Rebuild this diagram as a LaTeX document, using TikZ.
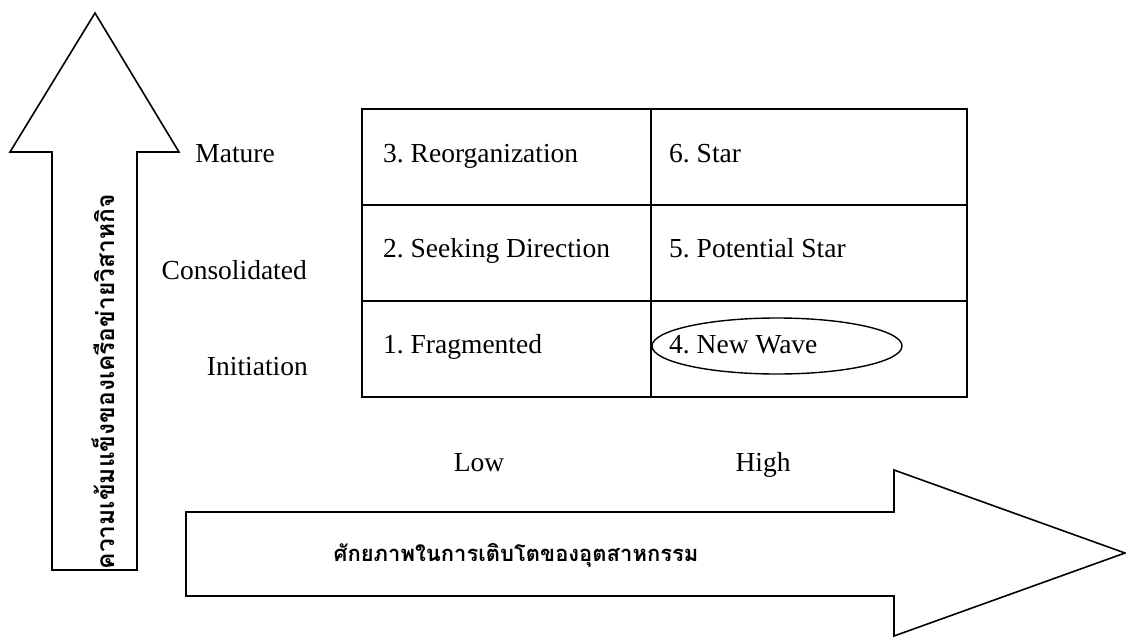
\documentclass[tikz,border=0pt]{standalone}
\usepackage{fontspec}
\setmainfont{Liberation Serif}
\newfontfamily\thaifont[Script=Thai]{Loma}
\frenchspacing
\begin{document}
\begin{tikzpicture}[x=1pt,y=-1pt,
  shapeline/.style={draw=black,line width=1.6pt,line join=miter},
  cell/.style={font=\fontsize{27.5}{30}\selectfont,anchor=base west,inner sep=0pt},
  axislab/.style={font=\fontsize{27.5}{30}\selectfont,inner sep=0pt},
  thai/.style={font=\thaifont\bfseries\selectfont}]
\useasboundingbox (0,0) rectangle (1126,637);
% vertical arrow
\draw[shapeline] (52,570) -- (52,152) -- (10,152) -- (95,13) -- (179,152) -- (137,152) -- (137,570) -- cycle;
% horizontal arrow
\draw[shapeline] (186,512) -- (894,512) -- (894,470) -- (1125,553) -- (894,636) -- (894,596) -- (186,596) -- cycle;
% grid
\draw[shapeline] (362,109) rectangle (967,397);
\draw[shapeline] (651,109) -- (651,397);
\draw[shapeline] (362,205) -- (967,205);
\draw[shapeline] (362,301) -- (967,301);
% ellipse
\draw[line width=1.4pt] (777,346) ellipse [x radius=125, y radius=28];
% cell texts
\node[cell] (c3) at (383,162) {3. Reorganization};
\node[cell] (c6) at (669,162) {6. Star};
\node[cell] (c2) at (383,257) {2. Seeking Direction};
\node[cell] (c5) at (669,257) {5. Potential Star};
\node[cell] (c1) at (383,353) {1. Fragmented};
\node[cell] (c4) at (669,353) {4. New Wave};
% axis labels
\node[axislab,anchor=base east] (mat) at (275,162) {Mature};
\node[axislab,anchor=base east] (con) at (307,279) {Consolidated};
\node[axislab,anchor=base east] (ini) at (308,375) {Initiation};
\node[axislab,anchor=base] (low) at (479,471) {Low};
\node[axislab,anchor=base] (high) at (763,471) {High};
% thai labels
\node[thai,font=\thaifont\bfseries\fontsize{24.5}{28}\selectfont,rotate=90] (vt) at (103,382) {ความเข้มแข็งของเครือข่ายวิสาหกิจ};
\node[thai,font=\thaifont\bfseries\fontsize{22}{26}\selectfont] (ht) at (516,555) {ศักยภาพในการเติบโตของอุตสาหกรรม};
\end{tikzpicture}
\end{document}
